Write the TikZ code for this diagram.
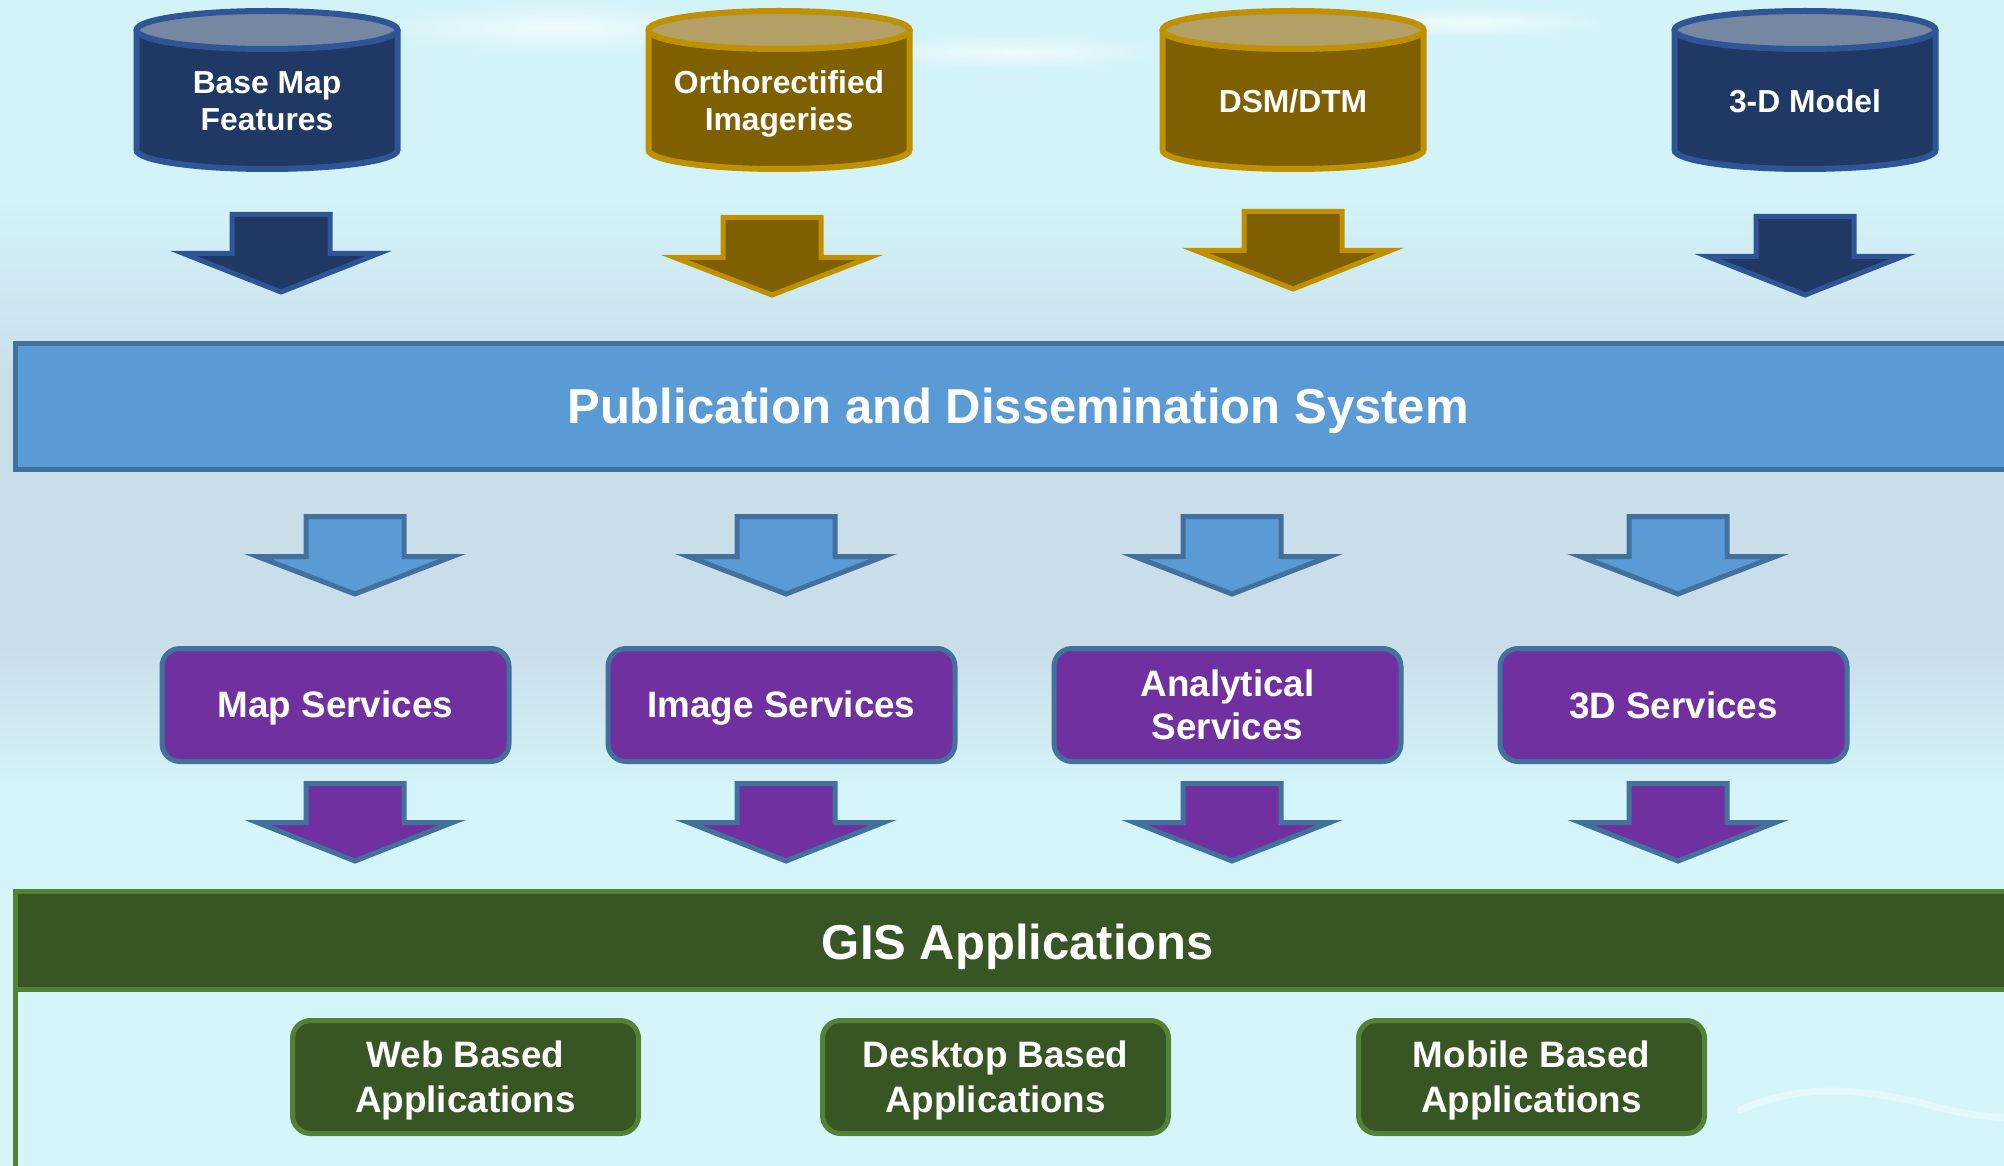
\documentclass[tikz,border=0pt]{standalone}
\usepackage{fontspec}
\usetikzlibrary{fadings}
\setmainfont{Liberation Sans}
\definecolor{navyfill}{HTML}{1F3864}
\definecolor{navyline}{HTML}{2F5597}
\definecolor{navytop}{HTML}{7587A1}
\definecolor{goldfill}{HTML}{7F6000}
\definecolor{goldline}{HTML}{BF9000}
\definecolor{goldtop}{HTML}{B3A066}
\definecolor{pubfill}{HTML}{5B9BD5}
\definecolor{publine}{HTML}{41719C}
\definecolor{purpfill}{HTML}{7030A0}
\definecolor{greenfill}{HTML}{375623}
\definecolor{greenline}{HTML}{548235}
\definecolor{bgtop}{HTML}{D2F3F8}
\definecolor{bgmid}{HTML}{CADEE9}
\definecolor{bgbot}{HTML}{D4F6FA}
\pgfdeclareverticalshading{bgshade}{100bp}{color(0bp)=(bgbot); color(40.7bp)=(bgbot); color(47.1bp)=(bgmid); color(58.7bp)=(bgmid); color(66.4bp)=(bgtop); color(100bp)=(bgtop)}
\tikzfading[name=softblob, inner color=transparent!0, outer color=transparent!100]
\newcommand\lst{\rule[-0.184em]{0pt}{1.084em}}
\newcommand\cylshape[4]{%
  \fill[#2] ({#1-130.5},30) rectangle ({#1+130.5},150);
  \fill[#2] (#1,150) ellipse [x radius=130.5, y radius=19];
  \draw[#3, line width=3pt] ({#1-130.5},30) -- ({#1-130.5},150) arc[start angle=180, end angle=0, x radius=130.5, y radius=19] -- ({#1+130.5},30);
  \filldraw[fill=#4, draw=#3, line width=3pt] (#1,30) ellipse [x radius=130.5, y radius=19];
}
\newcommand\blockarr[5]{%
  \filldraw[#1] ({#2-49},#3) -- ({#2+49},#3) -- ({#2+49},#4) -- ({#2+97.5},#4) -- (#2,#5) -- ({#2-97.5},#4) -- ({#2-49},#4) -- cycle;
}
\begin{document}
\begin{tikzpicture}[x=0.5pt,y=-0.5pt,
  cyltxt/.style={text=white, font=\bfseries\fontsize{15.9}{18.5}\selectfont, align=center, inner sep=0pt},
  titletxt/.style={text=white, font=\bfseries\fontsize{24.5}{29}\selectfont, inner sep=0pt},
  navyarr/.style={fill=navyfill, draw=navyline, line width=2.5pt, line join=miter},
  goldarr/.style={fill=goldfill, draw=goldline, line width=2.5pt, line join=miter},
  bluearr/.style={fill=pubfill, draw=publine, line width=2.5pt, line join=miter},
  purparr/.style={fill=purpfill, draw=publine, line width=2.5pt, line join=miter},
  svc/.style={draw=publine, fill=purpfill, line width=2.5pt, rounded corners=9pt, minimum width=173.5pt, minimum height=56.5pt, inner sep=0pt, text=white, align=center, font=\bfseries\fontsize{18.4}{21.8}\selectfont},
  app/.style={draw=greenline, fill=greenfill, line width=2.5pt, rounded corners=9pt, minimum width=173pt, minimum height=56.5pt, inner sep=0pt, text=white, align=center, font=\bfseries\fontsize{18.4}{22.4}\selectfont},
  haze/.style={white, opacity=0.7, path fading=softblob}
]
\useasboundingbox (0,0) rectangle (2004,1166);
\clip (0,0) rectangle (2004,1166);
\shade[shading=bgshade] (0,0) rectangle (2004,1166);
% faint background streaks
\fill[haze] (560,28) ellipse [x radius=190, y radius=26];
\fill[haze] (1010,52) ellipse [x radius=160, y radius=18];
\fill[haze] (1470,22) ellipse [x radius=140, y radius=16];
\draw[white, opacity=0.35, line width=3.5pt, line cap=round] (1740,1110) .. controls (1800,1084) and (1860,1086) .. (1940,1108) .. controls (1970,1115) and (1990,1117) .. (2010,1118);

% cylinders
\cylshape{267}{navyfill}{navyline}{navytop}
\cylshape{779}{goldfill}{goldline}{goldtop}
\cylshape{1293}{goldfill}{goldline}{goldtop}
\cylshape{1805}{navyfill}{navyline}{navytop}
\node[cyltxt] (bm) at (267,101) {\lst Base Map\\\lst Features};
\node[cyltxt] (oi) at (779,101) {\lst Orthorectified\\\lst Imageries};
\node[cyltxt] (dsm) at (1293,101) {\lst DSM/DTM};
\node[cyltxt] (m3d) at (1805,101) {\lst 3-D Model};

% top arrows
\blockarr{navyarr}{281}{214.5}{253.5}{292}
\blockarr{goldarr}{772}{217.5}{257.5}{295}
\blockarr{goldarr}{1293}{211.5}{250.5}{289}
\blockarr{navyarr}{1805}{216.5}{256.5}{295}

% publication bar
\draw[fill=pubfill, draw=publine, line width=2.5pt] (15.5,343.5) rectangle (2040,469.5);
\node[titletxt] (pub) at (1018,407) {\lst Publication and Dissemination System};

% middle arrows
\blockarr{bluearr}{355}{516.5}{556.5}{594}
\blockarr{bluearr}{786}{516.5}{556.5}{594}
\blockarr{bluearr}{1232}{516.5}{556.5}{594}
\blockarr{bluearr}{1678}{516.5}{556.5}{594}

% services
\node[svc] (ms) at (335.5,705) {\lst Map Services};
\node[svc] (is) at (781.5,705) {\lst Image Services};
\node[svc] (as) at (1227.5,705) {\lst Analytical\\\lst Services};
\node[svc] (ts) at (1673.5,705) {\lst 3D Services};

% purple arrows
\blockarr{purparr}{355}{783.5}{822.5}{861}
\blockarr{purparr}{786}{783.5}{822.5}{861}
\blockarr{purparr}{1232}{783.5}{822.5}{861}
\blockarr{purparr}{1678}{783.5}{822.5}{861}

% GIS
\fill[greenfill] (15.5,891.5) rectangle (2040,989.5);
\draw[greenline, line width=2.5pt] (15.5,1200) -- (15.5,891.5) -- (2040,891.5);
\draw[greenline, line width=2.5pt] (15.5,989.5) -- (2040,989.5);
\node[titletxt] (gis) at (1018,943) {\lst GIS Applications};

\node[app] (web) at (465.5,1077) {\lst Web Based\\\lst Applications};
\node[app] (desk) at (995.5,1077) {\lst Desktop Based\\\lst Applications};
\node[app] (mob) at (1531.5,1077) {\lst Mobile Based\\\lst Applications};
\end{tikzpicture}
\end{document}
